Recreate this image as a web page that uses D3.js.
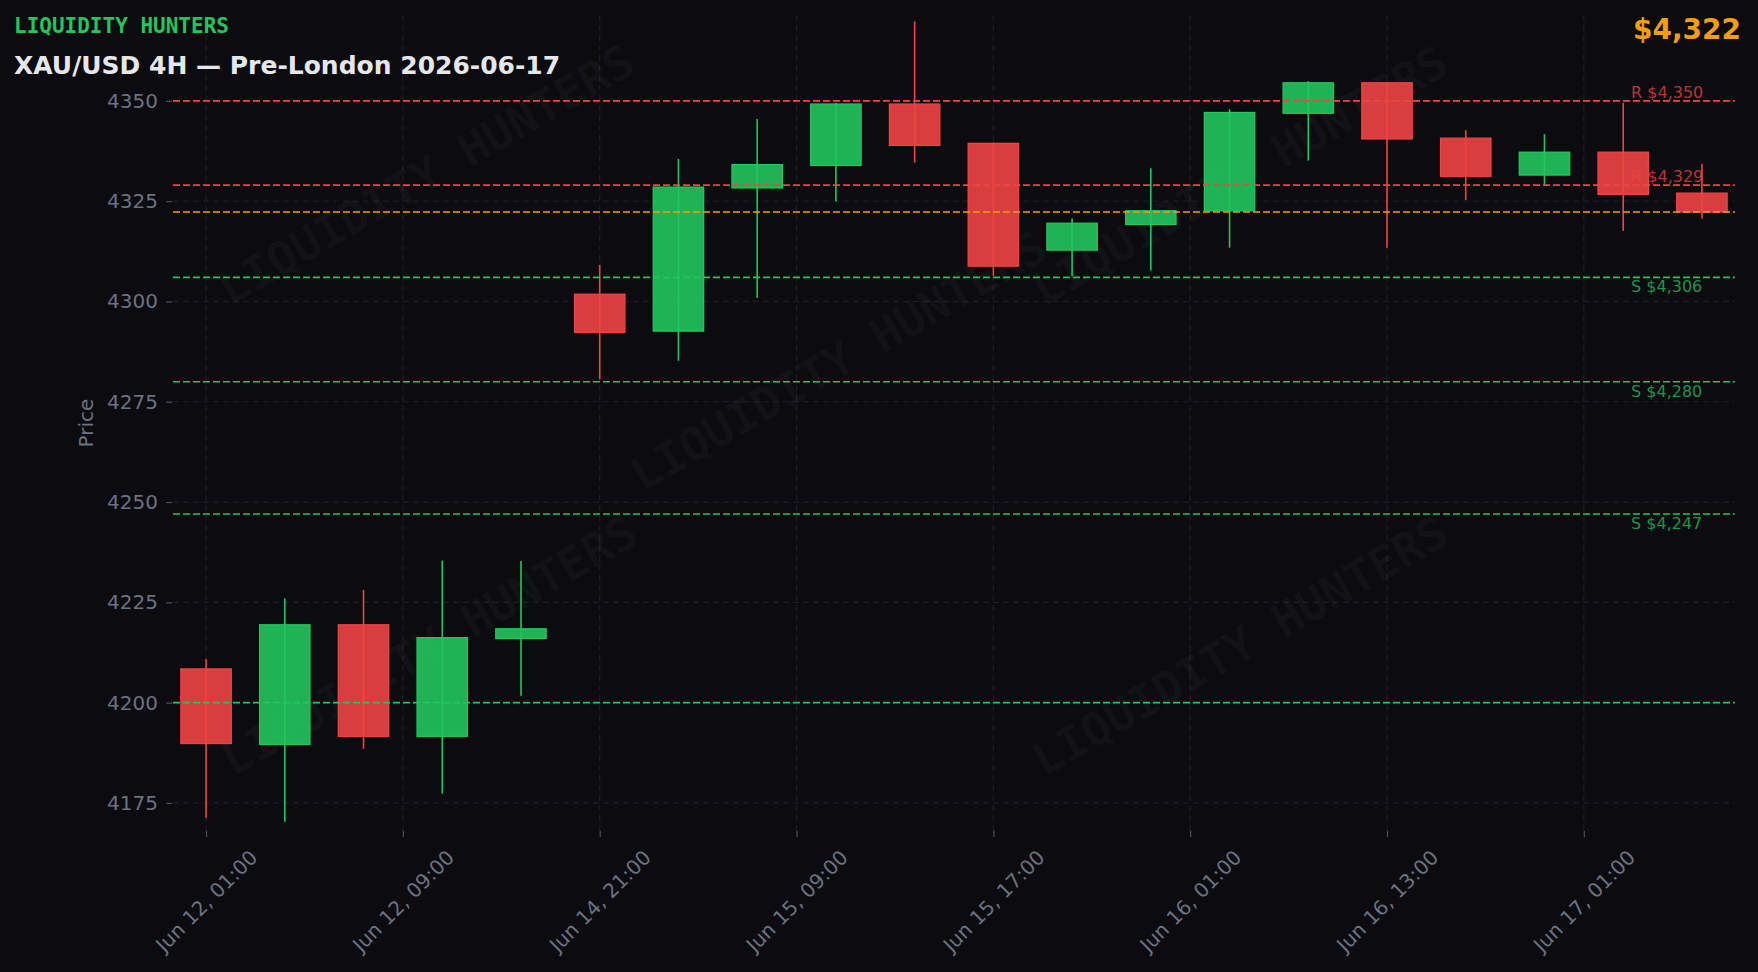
<!DOCTYPE html>
<html>
<head>
<meta charset="utf-8">
<script src="https://cdn.jsdelivr.net/npm/d3@7/dist/d3.min.js"></script>
<style>
  body { margin: 0; background: #0b0b10; }
  text { font-family: "DejaVu Sans", sans-serif; }
</style>
</head>
<body>
<script>
// 4H candles
const times = [
  "Jun 12, 01:00", "Jun 12, 05:00", "Jun 12, 09:00", "Jun 12, 13:00", "Jun 12, 17:00",
  "Jun 14, 21:00", "Jun 15, 01:00", "Jun 15, 05:00", "Jun 15, 09:00", "Jun 15, 13:00",
  "Jun 15, 17:00", "Jun 15, 21:00", "Jun 16, 01:00", "Jun 16, 05:00", "Jun 16, 09:00",
  "Jun 16, 13:00", "Jun 16, 17:00", "Jun 16, 21:00", "Jun 17, 01:00", "Jun 17, 05:00"
];
const opens = [4208.4, 4189.6, 4219.4, 4191.6, 4216.0, 4301.8, 4292.6, 4328.3, 4333.9, 4349.2,
  4339.4, 4312.8, 4319.2, 4322.6, 4346.9, 4354.5, 4340.7, 4331.5, 4337.2, 4327.0];
const highs = [4210.9, 4226.0, 4228.1, 4235.4, 4235.3, 4309.1, 4335.5, 4345.5, 4349.5, 4369.8,
  4339.6, 4320.7, 4333.2, 4347.9, 4354.9, 4354.6, 4342.7, 4341.7, 4349.5, 4334.3];
const lows = [4171.3, 4170.3, 4188.5, 4177.3, 4201.7, 4280.6, 4285.2, 4300.9, 4324.9, 4334.6,
  4306.4, 4306.2, 4307.7, 4313.4, 4335.1, 4313.4, 4325.3, 4329.0, 4317.6, 4320.6];
const closes = [4189.8, 4219.4, 4191.6, 4216.2, 4218.4, 4292.3, 4328.5, 4334.1, 4349.2, 4338.9,
  4308.8, 4319.5, 4322.6, 4347.1, 4354.5, 4340.5, 4331.2, 4337.2, 4326.7, 4322.3];

// x ticks sit on half steps, labelled with the nearest bar
const tickPositions = [0, 2.5, 5, 7.5, 10, 12.5, 15, 17.5];
const tickLabels = ["Jun 12, 01:00", "Jun 12, 09:00", "Jun 14, 21:00", "Jun 15, 09:00",
  "Jun 15, 17:00", "Jun 16, 01:00", "Jun 16, 13:00", "Jun 17, 01:00"];
const yTicks = [4175, 4200, 4225, 4250, 4275, 4300, 4325, 4350];

const resistance = [4350, 4329];
const support = [4306, 4280, 4247];
const otherLevels = [4200];
const currentPrice = 4322.3;

var UP = "#22c55e", DOWN = "#ef4444", ORANGE = "#f59e0b", GREY = "#6b7280";
var plotLeft = 173, plotRight = 1735, plotTop = 15, plotBottom = 831;

var svgContainer = d3
  .select("body")
  .append("svg")
  .attr("width", 1758)
  .attr("height", 972)
  .style("background", "#0b0b10");

var x = d3.scaleLinear()
  .domain([-0.42, times.length - 1 + 0.42])
  .range([plotLeft, plotRight]);
var y = d3.scaleLinear()
  .domain([4168, 4371.4])
  .range([plotBottom, plotTop]);

// grid
svgContainer.append("g")
  .selectAll("line")
  .data(tickPositions)
  .enter()
  .append("line")
  .attr("x1", (d) => x(d)).attr("x2", (d) => x(d))
  .attr("y1", plotTop).attr("y2", plotBottom)
  .attr("stroke", "#1d1e26")
  .attr("stroke-width", 1.2)
  .attr("stroke-dasharray", "6,4");
svgContainer.append("g")
  .selectAll("line")
  .data(yTicks)
  .enter()
  .append("line")
  .attr("x1", plotLeft).attr("x2", plotRight)
  .attr("y1", (d) => y(d)).attr("y2", (d) => y(d))
  .attr("stroke", "#1d1e26")
  .attr("stroke-width", 1.2)
  .attr("stroke-dasharray", "6,4");

// watermark
const wmX = [0.162, 0.426, 0.683, 0.164, 0.683];
const wmY = [0.196, 0.424, 0.197, 0.773, 0.773];
svgContainer.append("g")
  .selectAll("text")
  .data(wmX)
  .enter()
  .append("text")
  .attr("transform", (d, i) =>
    "translate(" + (plotLeft + d * (plotRight - plotLeft)) + "," +
    (plotTop + wmY[i] * (plotBottom - plotTop)) + ") rotate(-30)")
  .attr("text-anchor", "middle")
  .attr("dominant-baseline", "central")
  .style("font-family", "'DejaVu Sans Mono', monospace")
  .style("font-weight", "bold")
  .style("font-size", "46px")
  .attr("fill", "#ffffff")
  .attr("fill-opacity", 0.035)
  .text("LIQUIDITY HUNTERS");

// candles
var bw = x(0.64) - x(0);
var candles = svgContainer.append("g")
  .selectAll("g")
  .data(times)
  .enter()
  .append("g");
candles.append("line")
  .attr("x1", (d, i) => x(i)).attr("x2", (d, i) => x(i))
  .attr("y1", (d, i) => y(highs[i])).attr("y2", (d, i) => y(lows[i]))
  .attr("stroke", (d, i) => (closes[i] >= opens[i] ? UP : DOWN))
  .attr("stroke-width", 1.6);
candles.append("rect")
  .attr("x", (d, i) => x(i) - bw / 2)
  .attr("width", bw)
  .attr("y", (d, i) => y(Math.max(opens[i], closes[i])))
  .attr("height", (d, i) => Math.max(1, Math.abs(y(opens[i]) - y(closes[i]))))
  .attr("fill", (d, i) => (closes[i] >= opens[i] ? UP : DOWN))
  .attr("fill-opacity", 0.9)
  .attr("stroke", (d, i) => (closes[i] >= opens[i] ? UP : DOWN))
  .attr("stroke-width", 1.3);

// levels
function levelLine(v, color) {
  svgContainer.append("line")
    .attr("x1", plotLeft).attr("x2", plotRight)
    .attr("y1", y(v)).attr("y2", y(v))
    .attr("stroke", color)
    .attr("stroke-width", 1.6)
    .attr("stroke-dasharray", "7,3");
}
otherLevels.forEach((v) => levelLine(v, UP));
support.forEach((v) => levelLine(v, UP));
resistance.forEach((v) => levelLine(v, DOWN));
levelLine(currentPrice, ORANGE);

var labelX = x(18.1);
svgContainer.selectAll("rlabels")
  .data(resistance)
  .enter()
  .append("text")
  .attr("x", labelX)
  .attr("y", (d) => y(d) - 3)
  .attr("fill", DOWN)
  .attr("fill-opacity", 0.75)
  .style("font-size", "16px")
  .text((d) => "R $" + d3.format(",")(d));
svgContainer.selectAll("slabels")
  .data(support)
  .enter()
  .append("text")
  .attr("x", labelX)
  .attr("y", (d) => y(d) + 15)
  .attr("fill", UP)
  .attr("fill-opacity", 0.75)
  .style("font-size", "16px")
  .text((d) => "S $" + d3.format(",")(d));

// axes
var yAxis = svgContainer.append("g")
  .attr("transform", "translate(" + (plotLeft - 1) + ",0)")
  .call(d3.axisLeft(y).tickValues(yTicks).tickSize(6).tickPadding(8).tickFormat(d3.format("d")));
yAxis.select(".domain").remove();
yAxis.selectAll("line").attr("stroke", "#4b5060").attr("stroke-width", 1.2);
yAxis.selectAll("text")
  .attr("fill", GREY)
  .style("font-family", "'DejaVu Sans', sans-serif")
  .style("font-size", "20px");

var xAxis = svgContainer.append("g")
  .attr("transform", "translate(0," + plotBottom + ")")
  .call(d3.axisBottom(x).tickValues(tickPositions).tickSize(6).tickFormat((d, i) => tickLabels[i]));
xAxis.select(".domain").remove();
xAxis.selectAll("line").attr("stroke", "#4b5060").attr("stroke-width", 1.2);
xAxis.selectAll("text")
  .attr("y", null)
  .attr("dy", null)
  .attr("text-anchor", "middle")
  .attr("dominant-baseline", "central")
  .attr("transform", "translate(0,70) rotate(-45)")
  .attr("fill", GREY)
  .style("font-family", "'DejaVu Sans', sans-serif")
  .style("font-size", "20px");

svgContainer.append("text")
  .attr("transform", "translate(86," + (plotTop + plotBottom) / 2 + ") rotate(-90)")
  .attr("text-anchor", "middle")
  .attr("dominant-baseline", "central")
  .attr("fill", GREY)
  .style("font-size", "20px")
  .text("Price");

// header
svgContainer.append("text")
  .attr("x", 14)
  .attr("y", 33)
  .attr("fill", UP)
  .style("font-family", "'DejaVu Sans Mono', monospace")
  .style("font-weight", "bold")
  .style("font-size", "21px")
  .text("LIQUIDITY HUNTERS");
svgContainer.append("text")
  .attr("x", 14)
  .attr("y", 74)
  .attr("fill", "#e5e7eb")
  .style("font-weight", "bold")
  .style("font-size", "25px")
  .text("XAU/USD 4H \u2014 Pre-London 2026-06-17");
svgContainer.append("text")
  .attr("x", 1741)
  .attr("y", 39)
  .attr("text-anchor", "end")
  .attr("fill", ORANGE)
  .style("font-weight", "bold")
  .style("font-size", "28px")
  .text("$" + d3.format(",")(Math.round(currentPrice)));
</script>
</body>
</html>
